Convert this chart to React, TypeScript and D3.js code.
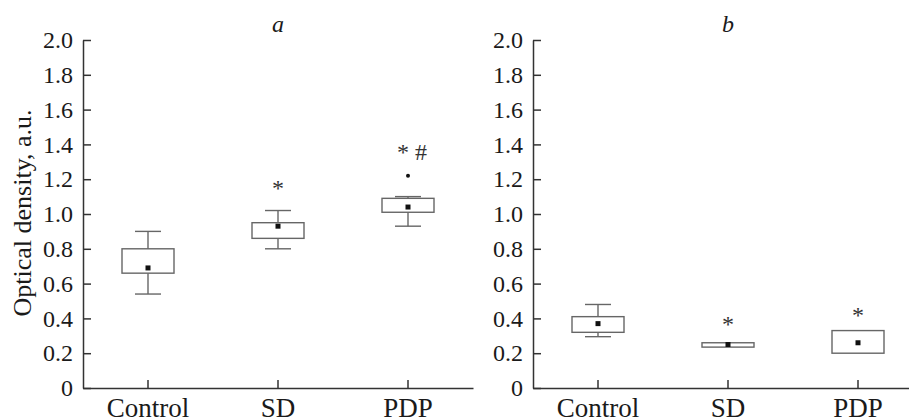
import React, { useEffect, useRef } from 'react'
import * as d3 from 'd3'

const categories = ['Control', 'SD', 'PDP']
const panelTitles = ['a', 'b']
const yTicks = [0, 0.2, 0.4, 0.6, 0.8, 1.0, 1.2, 1.4, 1.6, 1.8, 2.0]

// panel a
const aWhiskerLow = [0.54, 0.8, 0.93]
const aQ1 = [0.66, 0.86, 1.01]
const aQ3 = [0.8, 0.95, 1.09]
const aWhiskerHigh = [0.9, 1.02, 1.1]
const aMean = [0.69, 0.93, 1.04]
const aOutliers = [null, null, 1.22]
const aMarks = ['', '*', '* #']
const aMarkY = [0, 1.17, 1.38]

// panel b
const bWhiskerLow = [0.295, 0.235, 0.2]
const bQ1 = [0.32, 0.235, 0.2]
const bQ3 = [0.41, 0.26, 0.33]
const bWhiskerHigh = [0.48, 0.26, 0.33]
const bMean = [0.37, 0.25, 0.26]
const bOutliers = [null, null, null]
const bMarks = ['', '*', '*']
const bMarkY = [0, 0.39, 0.44]

const panels = [
  { left: 83, low: aWhiskerLow, q1: aQ1, q3: aQ3, high: aWhiskerHigh, mean: aMean, out: aOutliers, marks: aMarks, markY: aMarkY },
  { left: 533, low: bWhiskerLow, q1: bQ1, q3: bQ3, high: bWhiskerHigh, mean: bMean, out: bOutliers, marks: bMarks, markY: bMarkY },
]

const FONT = '"Liberation Serif", "Times New Roman", serif'

export default function App() {
  const ref = useRef<SVGSVGElement>(null)

  useEffect(() => {
    const svg = d3.select(ref.current)
    svg.selectAll('*').remove()
    const top = 40, bottom = 388, plotW = 390
    const boxW = 52, capW = 26
    const boxColor = '#666'

    const yScale = d3.scaleLinear().domain([0, 2]).range([bottom, top])

    panels.forEach((p, pi) => {
      const g = svg.append('g').attr('transform', `translate(${p.left},0)`)
      const xScale = d3.scaleBand().domain(categories).range([0, plotW])

      const yAxis = d3.axisLeft(yScale)
        .tickValues(yTicks)
        .tickFormat(d => (+d === 0 ? '0' : (+d).toFixed(1)))
        .tickSizeInner(-8).tickSizeOuter(0).tickPadding(10)
      const ya = g.append('g').call(yAxis)
      ya.selectAll('text').attr('font-size', 24).attr('font-family', FONT).attr('fill', '#1a1a1a')
      ya.selectAll('line,path').attr('stroke', '#333').attr('stroke-width', 1.5)

      const xAxis = d3.axisBottom(xScale).tickSizeInner(-8).tickSizeOuter(0)
      const xa = g.append('g').attr('transform', `translate(0,${bottom})`).call(xAxis)
      xa.selectAll('text')
        .attr('y', 29).attr('dy', 0)
        .attr('font-size', 27).attr('font-family', FONT).attr('fill', '#1a1a1a')
      xa.selectAll('line,path').attr('stroke', '#333').attr('stroke-width', 1.5)

      g.append('text')
        .attr('x', xScale('SD')! + xScale.bandwidth() / 2)
        .attr('y', 32)
        .attr('text-anchor', 'middle')
        .attr('font-family', FONT).attr('font-style', 'italic').attr('font-size', 24)
        .attr('fill', '#1a1a1a')
        .text(panelTitles[pi])

      categories.forEach((c, i) => {
        const cx = xScale(c)! + xScale.bandwidth() / 2
        const bg = g.append('g')
        // whiskers
        if (p.high[i] > p.q3[i]) {
          bg.append('line').attr('x1', cx).attr('x2', cx)
            .attr('y1', yScale(p.q3[i])).attr('y2', yScale(p.high[i]))
          bg.append('line').attr('x1', cx - capW / 2).attr('x2', cx + capW / 2)
            .attr('y1', yScale(p.high[i])).attr('y2', yScale(p.high[i]))
        }
        if (p.low[i] < p.q1[i]) {
          bg.append('line').attr('x1', cx).attr('x2', cx)
            .attr('y1', yScale(p.q1[i])).attr('y2', yScale(p.low[i]))
          bg.append('line').attr('x1', cx - capW / 2).attr('x2', cx + capW / 2)
            .attr('y1', yScale(p.low[i])).attr('y2', yScale(p.low[i]))
        }
        bg.append('rect')
          .attr('x', cx - boxW / 2).attr('width', boxW)
          .attr('y', yScale(p.q3[i])).attr('height', yScale(p.q1[i]) - yScale(p.q3[i]))
          .attr('fill', 'none')
        bg.selectAll('line,rect').attr('stroke', boxColor).attr('stroke-width', 1.4)

        bg.append('rect')
          .attr('x', cx - 2.5).attr('y', yScale(p.mean[i]) - 2.5)
          .attr('width', 5).attr('height', 5).attr('fill', '#111')

        const o = p.out[i]
        if (o !== null) {
          bg.append('circle').attr('cx', cx).attr('cy', yScale(o)).attr('r', 2).attr('fill', '#111')
        }
        if (p.marks[i]) {
          bg.append('text')
            .attr('x', cx + (p.marks[i].length > 1 ? 4 : 0))
            .attr('y', yScale(p.markY[i]) + 12)
            .attr('text-anchor', 'middle')
            .attr('font-family', FONT).attr('font-size', 24).attr('fill', '#333')
            .text(p.marks[i])
        }
      })
    })

    svg.append('text')
      .attr('transform', `translate(31,213) rotate(-90)`)
      .attr('text-anchor', 'middle')
      .attr('font-family', FONT).attr('font-size', 26).attr('fill', '#1a1a1a')
      .text('Optical density, a.u.')
  }, [])

  return (
    <svg ref={ref} width={909} height={419}
      style={{ position: 'absolute', left: 0, top: 0, background: '#fff' }} />
  )
}
